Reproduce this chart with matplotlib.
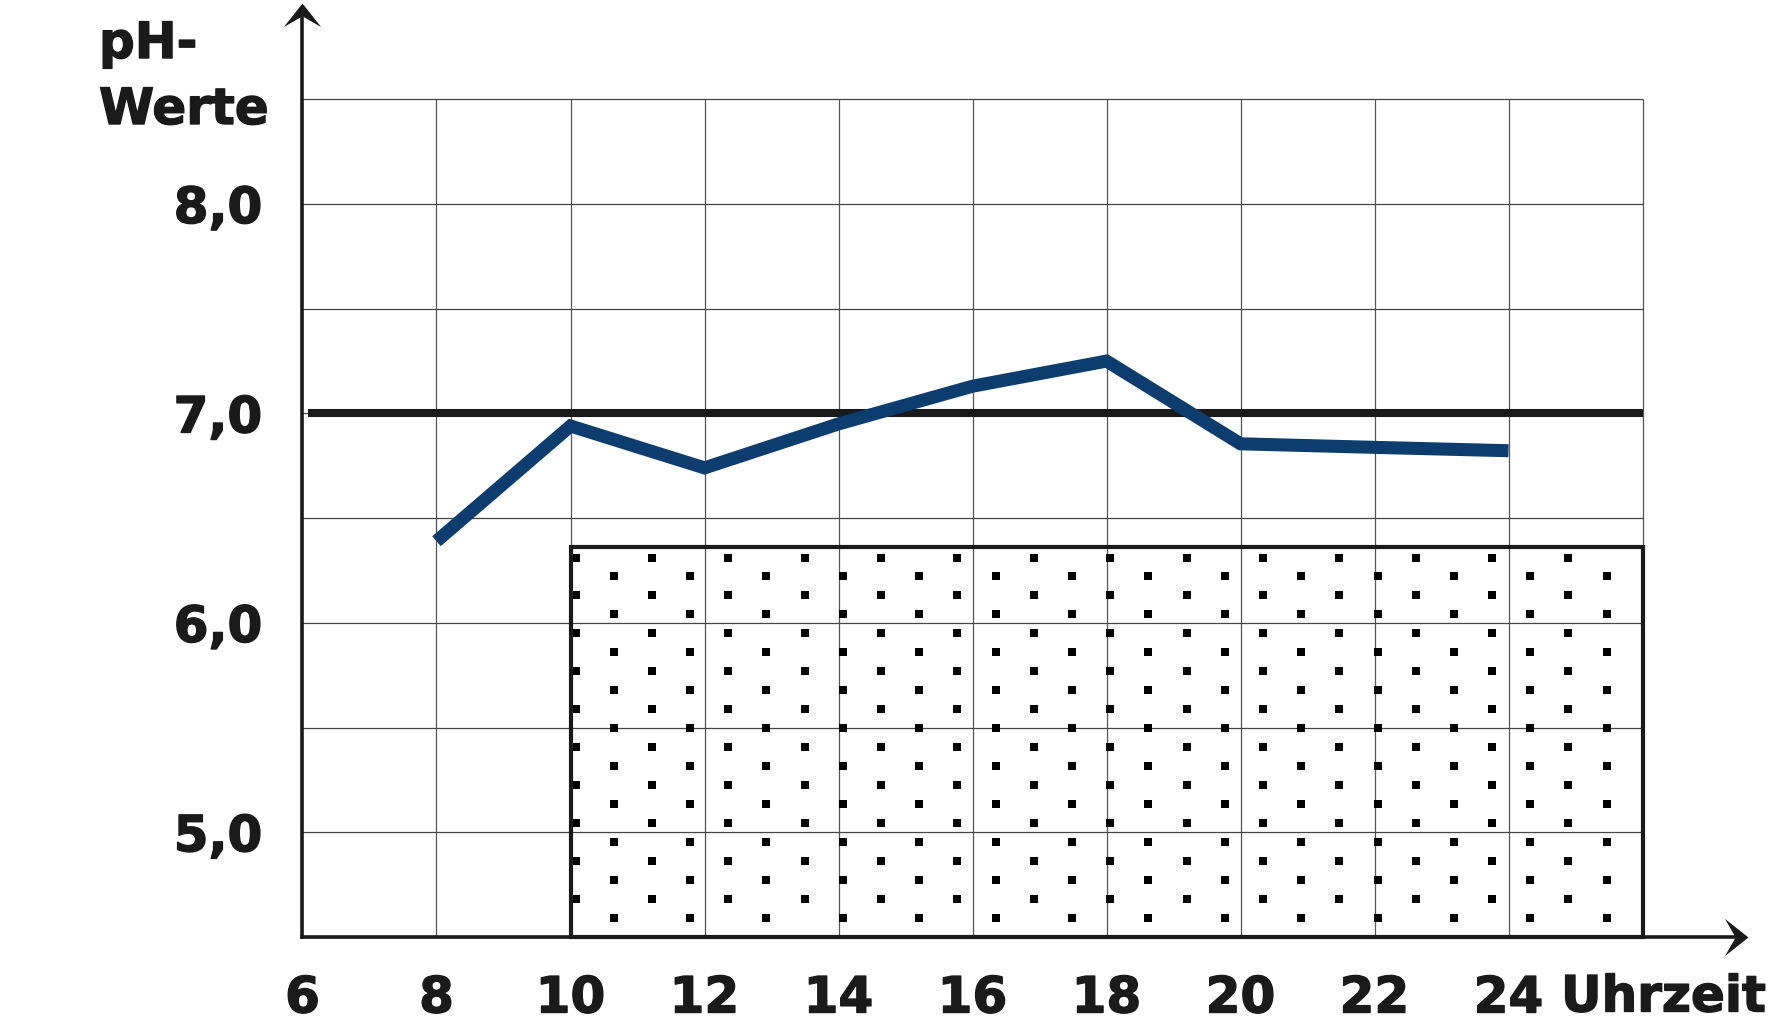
import matplotlib.pyplot as plt
import matplotlib.patheffects as pe
import numpy as np
from matplotlib.patches import Rectangle
from matplotlib.path import Path

# pH-Verlauf über den Tag
hours = [8, 10, 12, 14, 16, 18, 20, 22, 24]
ph = [6.39, 6.94, 6.74, 6.95, 7.13, 7.25, 6.855, 6.838, 6.822]

x_ticks = [6, 8, 10, 12, 14, 16, 18, 20, 22, 24]
x_labels = ['6', '8', '10', '12', '14', '16', '18', '20', '22', '24']
y_ticks = [5, 6, 7, 8]
y_labels = ['5,0', '6,0', '7,0', '8,0']

grid_x = np.arange(6, 27, 2)
grid_y = np.arange(4.5, 8.51, 0.5)

neutral = 7.0                       # Neutralpunkt
box_left, box_right, box_top = 10, 26, 6.36   # gepunktete Fläche

ink = '#1a1a1a'
blue = '#0d3d6e'
heavy = [pe.withStroke(linewidth=1.0, foreground=ink)]

plt.rcParams['font.family'] = ['DejaVu Sans']
plt.rcParams['font.weight'] = 'bold'
plt.rcParams['font.size'] = 36

fig = plt.figure(figsize=(17.7, 10.16), dpi=100)
ax = fig.add_axes([302.5 / 1770, 79 / 1016, 1340 / 1770, 837.7 / 1016])
ax.set_xlim(6, 26)
ax.set_ylim(4.5, 8.5)
for s in ax.spines.values():
    s.set_visible(False)

# grid
ax.vlines(grid_x, 4.5, 8.5, color='#555555', lw=0.9, zorder=1, clip_on=False)
ax.hlines(grid_y, 6, 26, color='#444444', lw=0.9, zorder=1, clip_on=False)

# dotted box
ax.add_patch(Rectangle((box_left, 4.5), box_right - box_left, box_top - 4.5,
                       facecolor='none', edgecolor=ink, lw=3, zorder=3, clip_on=False))
dx, dy = 0.570, 0.0905
cols = np.arange(28)
rows = np.arange(20)
C, R = np.meshgrid(cols, rows)
keep = (C + R) % 2 == 0
dot_x = box_left + 0.075 + C[keep] * dx
dot_y = box_top - 0.048 - R[keep] * dy
ax.plot(dot_x, dot_y, 's', ms=6.3, color='black', mew=0, zorder=2)

# neutral line and measured pH
ax.plot([6.08, 26], [neutral, neutral], color=ink, lw=5.8, solid_capstyle='butt', zorder=4)
ax.plot(hours, ph, color=blue, lw=9.4, solid_capstyle='butt', solid_joinstyle='miter', zorder=5)

# axes with arrows
ax.plot([6, 6], [4.5, 8.89], color=ink, lw=2.6, solid_capstyle='projecting', clip_on=False, zorder=6)
ax.plot([6, 27.36], [4.5, 4.5], color=ink, lw=2.6, solid_capstyle='projecting', clip_on=False, zorder=6)
codes = [Path.MOVETO, Path.LINETO, Path.LINETO, Path.LINETO, Path.CLOSEPOLY]
head_up = Path([(0, 0), (19, -24), (0, -13), (-19, -24), (0, 0)], codes)
head_right = Path([(0, 0), (-24, 19), (-13, 0), (-24, -19), (0, 0)], codes)
ax.plot([6], [8.958], marker=head_up, ms=34, color=ink, mew=0, clip_on=False, zorder=7)
ax.plot([27.57], [4.5], marker=head_right, ms=34, color=ink, mew=0, clip_on=False, zorder=7)

ax.set_xticks(x_ticks, x_labels)
ax.set_yticks(y_ticks, y_labels)
ax.tick_params(length=0, colors=ink)
ax.tick_params(axis='x', pad=27)
ax.tick_params(axis='y', pad=29)
for lab in ax.get_xticklabels() + ax.get_yticklabels():
    lab.set_path_effects(heavy)

fig.text(99 / 1770, 1 - 58 / 1016, 'pH-', ha='left', va='baseline', color=ink, path_effects=heavy)
fig.text(99 / 1770, 1 - 124 / 1016, 'Werte', ha='left', va='baseline', color=ink, path_effects=heavy)
fig.text(1561 / 1770, 1 - 1011.5 / 1016, 'Uhrzeit', ha='left', va='baseline', color=ink, path_effects=heavy)

fig.savefig('out.png', dpi=100, facecolor='white')
